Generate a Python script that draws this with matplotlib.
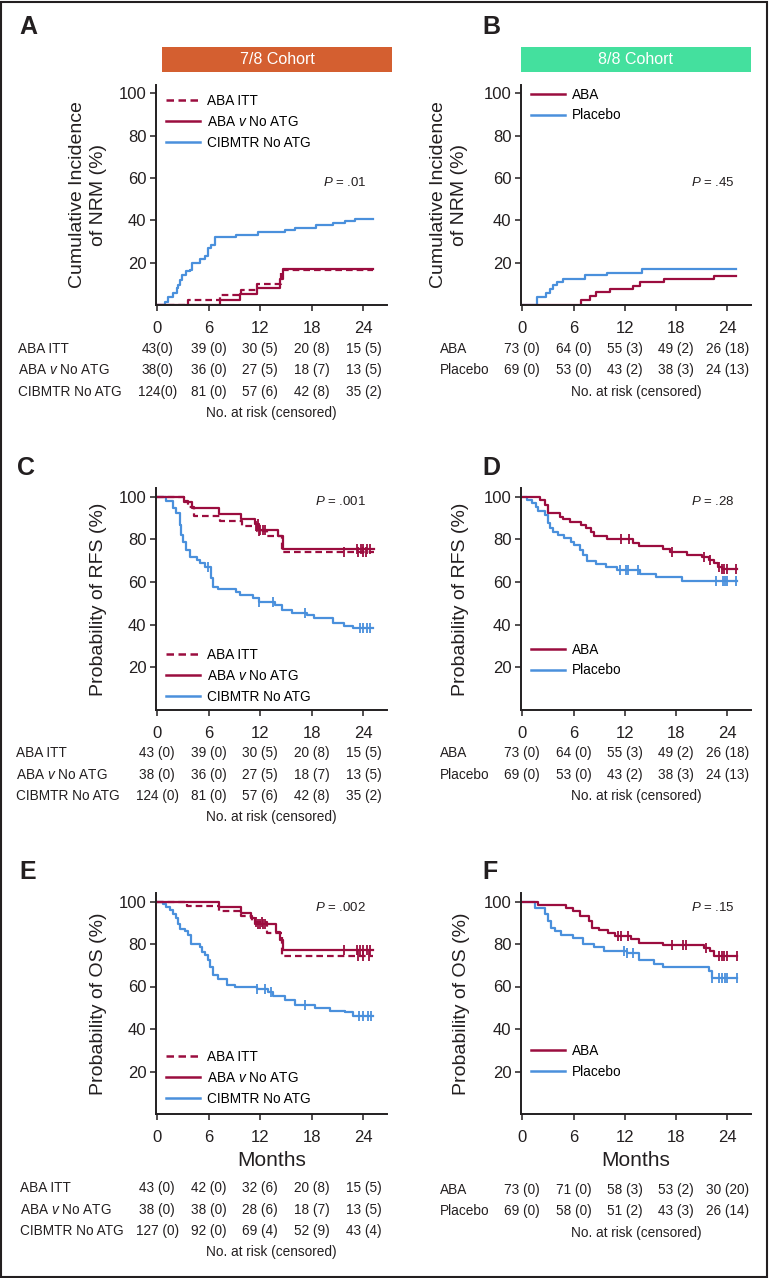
import numpy as np
import matplotlib
matplotlib.use("Agg")
import matplotlib.pyplot as plt
from matplotlib.lines import Line2D
from matplotlib.patches import Rectangle
from matplotlib.transforms import blended_transform_factory

# fonts: Arial-like text, italic P and v through mathtext
plt.rcParams['font.family'] = ['Liberation Sans', 'DejaVu Sans']
plt.rcParams['mathtext.fontset'] = 'custom'
plt.rcParams['mathtext.it'] = 'Liberation Sans:italic'
plt.rcParams['mathtext.rm'] = 'Liberation Sans'

RED = '#9b0d3f'
BLUE = '#4a90dc'
INK = '#231f20'
DASH = (0, (3, 1.8))

month_ticks = [0, 6, 12, 18, 24]
pct_ticks = [20, 40, 60, 80, 100]

# ---- A: cumulative incidence of NRM, 7/8 cohort
A_itt_t = [0, 3.6, 7.3, 9.8, 11.6, 14.4, 25.1]
A_itt_v = [0, 2.3, 4.7, 7.2, 9.8, 16.6, 16.6]
A_aba_t = [0, 7.3, 9.6, 11.6, 14.3, 14.6, 25.1]
A_aba_v = [0, 2.6, 5.3, 8.0, 12.3, 16.8, 16.8]
A_cib_t = [0, 0.95, 1.26, 1.84, 2.24, 2.43, 2.6, 2.82, 3.4, 3.79, 4.0, 4.95, 5.5, 5.9, 6.3, 6.7,
           9.2, 11.7, 14.9, 16.0, 18.5, 20.5, 21.9, 23.0, 25.1]
A_cib_v = [0, 1.5, 3.8, 5.7, 8.1, 9.6, 12.0, 14.4, 15.9, 16.7, 19.8, 21.7, 23.0, 26.9, 28.5, 32.1,
           33.2, 34.4, 35.5, 36.6, 37.9, 39.0, 39.9, 40.7, 40.7]

# ---- B: cumulative incidence of NRM, 8/8 cohort
B_aba_t = [0, 6.9, 7.9, 8.6, 10.3, 12.9, 13.8, 16.6, 22.4, 25.0]
B_aba_v = [0, 2.3, 4.2, 6.2, 7.6, 9.2, 10.7, 12.3, 13.9, 13.9]
B_pla_t = [0, 1.74, 2.8, 3.2, 3.6, 4.1, 4.8, 7.3, 9.9, 14.0, 25.0]
B_pla_v = [0, 3.8, 5.7, 7.6, 9.6, 10.7, 12.5, 14.0, 15.1, 17.0, 17.0]

# ---- C: RFS, 7/8 cohort
C_itt_t = [0, 3.1, 3.6, 4.3, 7.3, 9.9, 11.6, 12.8, 14.5, 25.2]
C_itt_v = [100, 97.7, 95.3, 90.7, 88.4, 86.0, 83.7, 81.3, 73.9, 73.9]
C_itt_c = [11.5, 11.9, 21.7, 23.4, 23.9, 24.3]
C_aba_t = [0, 3.1, 4.1, 7.2, 9.7, 11.4, 11.8, 14.1, 14.6, 25.2]
C_aba_v = [100, 97.4, 94.6, 91.9, 89.6, 87.2, 84.4, 81.3, 75.5, 75.5]
C_aba_c = [11.7, 12.0, 12.3, 12.6, 23.3, 23.7, 24.0, 24.4, 24.8]
C_cib_t = [0, 1.07, 1.8, 2.2, 2.6, 2.8, 3.0, 3.4, 3.8, 4.6, 5.0, 5.6, 6.2, 6.5, 7.1, 9.2, 9.6,
           11.2, 11.8, 13.7, 14.5, 15.7, 17.4, 18.2, 20.5, 21.7, 22.8, 25.1]
C_cib_v = [100, 97.7, 94.6, 92.2, 86.7, 82.0, 78.9, 75.0, 71.9, 70.3, 68.8, 67.2, 61.7, 57.8, 56.6,
           55.5, 53.9, 52.4, 50.8, 49.2, 46.9, 45.3, 44.5, 43.0, 40.9, 39.4, 38.3, 38.3]
C_cib_c = [5.9, 11.8, 13.5, 17.2, 23.6, 24.0, 24.4, 24.8]

# ---- D: RFS, 8/8 cohort
D_aba_t = [0, 2.1, 2.6, 3.0, 4.4, 4.8, 5.6, 6.9, 7.4, 8.0, 8.4, 9.9, 12.9, 13.7, 16.5, 17.3,
           19.3, 21.0, 21.8, 22.4, 22.9, 23.3, 25.1]
D_aba_v = [100, 98.6, 95.9, 92.2, 90.6, 89.3, 87.9, 86.7, 85.1, 83.6, 81.3, 80.0, 78.1, 76.9, 75.5,
           73.9, 72.7, 71.6, 70.3, 68.8, 67.2, 66.1, 66.1]
D_aba_c = [11.5, 12.5, 17.5, 21.2, 22.0, 23.0, 23.3, 23.6, 23.9, 25.0]
D_pla_t = [0, 0.5, 1.1, 1.6, 1.8, 2.6, 3.0, 3.3, 3.6, 4.2, 4.9, 5.7, 6.1, 6.8, 7.1, 7.6, 8.6,
           9.8, 11.1, 13.8, 15.6, 18.7, 25.1]
D_pla_v = [100, 98.4, 96.9, 95.3, 93.0, 91.4, 87.5, 85.1, 83.6, 82.0, 80.5, 78.9, 77.3, 75.0, 72.7,
           70.0, 68.4, 67.2, 65.6, 63.8, 62.2, 60.6, 60.6]
D_pla_c = [11.4, 12.1, 12.4, 13.5, 22.7, 23.5, 23.7, 24.0, 25.0]

# ---- E: OS, 7/8 cohort
E_itt_t = [0, 3.5, 7.2, 9.7, 11.0, 12.8, 14.5, 25.1]
E_itt_v = [100, 97.7, 95.3, 93.0, 90.4, 85.4, 74.4, 74.4]
E_itt_c = [11.5, 12.2, 23.4, 23.9, 24.6]
E_aba_t = [0, 7.2, 9.7, 10.9, 11.4, 13.8, 14.3, 14.6, 25.1]
E_aba_v = [100, 97.4, 94.7, 92.1, 89.5, 85.7, 81.8, 77.4, 77.4]
E_aba_c = [11.7, 12.0, 12.3, 12.6, 21.7, 23.2, 23.6, 24.0, 24.4, 24.8]
E_cib_t = [0, 0.68, 1.07, 1.46, 1.84, 2.16, 2.43, 2.62, 3.2, 3.6, 3.98, 4.95, 5.15, 5.5, 5.9, 6.1,
           6.5, 7.1, 8.06, 9.0, 11.6, 12.9, 13.5, 14.9, 16.0, 18.4, 20.1, 21.9, 22.8, 25.1]
E_cib_v = [100, 98.9, 97.6, 96.1, 94.2, 92.4, 89.6, 87.2, 86.1, 84.1, 79.8, 78.6, 76.2, 74.7, 72.3,
           69.2, 65.3, 63.6, 60.5, 59.7, 58.9, 57.3, 55.6, 53.5, 51.1, 50.0, 48.5, 47.9, 45.9, 45.9]
E_cib_c = [11.6, 12.6, 13.2, 17.2, 23.5, 24.0, 24.5, 24.9]

# ---- F: OS, 8/8 cohort
F_aba_t = [0, 1.8, 5.1, 5.9, 6.7, 7.8, 8.2, 9.0, 10.0, 10.9, 12.7, 13.6, 16.5, 21.2, 22.0, 22.4, 25.1]
F_aba_v = [100, 98.5, 97.1, 95.6, 93.2, 90.9, 87.7, 86.5, 85.1, 83.8, 82.3, 80.7, 79.5, 78.2, 76.7,
           74.3, 74.3]
F_aba_c = [11.2, 11.6, 12.4, 17.5, 18.8, 19.1, 21.5, 23.0, 23.3, 23.6, 23.9, 25.1]
F_pla_t = [0, 1.43, 2.6, 3.0, 3.4, 3.8, 4.5, 5.9, 7.05, 8.4, 9.6, 12.2, 13.6, 15.4, 16.5, 21.8,
           22.2, 25.1]
F_pla_v = [100, 97.1, 93.9, 90.8, 87.7, 86.1, 84.2, 82.9, 79.8, 78.5, 76.9, 75.8, 72.7, 70.8, 69.1,
           67.2, 64.0, 64.0]
F_pla_c = [11.9, 12.3, 13.0, 22.2, 23.0, 23.4, 23.7, 24.0, 25.1]

# ---- numbers at risk (censored)
rows_78 = ['ABA ITT', r'ABA $\mathit{v}$ No ATG', 'CIBMTR No ATG']
rows_88 = ['ABA', 'Placebo']
risk_A = [['43(0)', '39 (0)', '30 (5)', '20 (8)', '15 (5)'],
          ['38(0)', '36 (0)', '27 (5)', '18 (7)', '13 (5)'],
          ['124(0)', '81 (0)', '57 (6)', '42 (8)', '35 (2)']]
risk_B = [['73 (0)', '64 (0)', '55 (3)', '49 (2)', '26 (18)'],
          ['69 (0)', '53 (0)', '43 (2)', '38 (3)', '24 (13)']]
risk_C = [['43 (0)', '39 (0)', '30 (5)', '20 (8)', '15 (5)'],
          ['38 (0)', '36 (0)', '27 (5)', '18 (7)', '13 (5)'],
          ['124 (0)', '81 (0)', '57 (6)', '42 (8)', '35 (2)']]
risk_D = risk_B
risk_E = [['43 (0)', '42 (0)', '32 (6)', '20 (8)', '15 (5)'],
          ['38 (0)', '38 (0)', '28 (6)', '18 (7)', '13 (5)'],
          ['127 (0)', '92 (0)', '69 (4)', '52 (9)', '43 (4)']]
risk_F = [['73 (0)', '71 (0)', '58 (3)', '53 (2)', '30 (20)'],
          ['69 (0)', '58 (0)', '51 (2)', '43 (3)', '26 (14)']]

W, H = 769, 1278
fig = plt.figure(figsize=(W / 100, H / 100), dpi=100)


def px_axes(left, right, top, bottom):
    return fig.add_axes([left / W, 1 - bottom / H, (right - left) / W, (bottom - top) / H])


def step_at(t, v, x):
    idx = np.searchsorted(t, x, side='right') - 1
    return np.asarray(v)[idx]


def curve(ax, t, v, color, ls='-', cens=None):
    ax.step(t, v, where='post', color=color, lw=1.6, ls=ls)
    if cens:
        ax.plot(cens, step_at(t, v, cens), ls='none', marker='|', ms=6.5, mew=1.3, color=color)


def style(ax, ylabel, lab_x, ptxt, pxy):
    ax.set_xlim(-0.15, 26.75)
    ax.set_ylim(0, 104)
    ax.set_xticks(month_ticks)
    ax.set_yticks(pct_ticks)
    for s in ['top', 'right']:
        ax.spines[s].set_visible(False)
    for s in ['left', 'bottom']:
        ax.spines[s].set_linewidth(1.4)
        ax.spines[s].set_color(INK)
    ax.tick_params(axis='both', direction='out', length=4.5, width=1.1, colors=INK, labelsize=12)
    ax.tick_params(axis='x', pad=7)
    ax.tick_params(axis='y', pad=2.5)
    ax.set_ylabel(ylabel, fontsize=14, color=INK, va='center', ha='center', linespacing=1.25)
    ax.yaxis.set_label_coords(lab_x, 0.5)
    ax.text(pxy[0], pxy[1], r'$\mathit{P}$ = ' + ptxt, fontsize=9.5, ha='center', va='center', color=INK)


def legend(ax, items, yc):
    handles = [Line2D([0], [0], color=c, lw=1.8, ls=ls) for _, c, ls in items]
    ax.legend(handles, [n for n, _, _ in items], loc='center left', bbox_to_anchor=(0.045, yc),
              frameon=False, fontsize=9.8, handlelength=2.45, handletextpad=0.55, labelspacing=0.5,
              borderpad=0, borderaxespad=0)


def table(ax, rows, risk, first_px, label_px, hpx):
    tr = blended_transform_factory(ax.transData, ax.transAxes)
    trl = blended_transform_factory(fig.transFigure, ax.transAxes)
    pitch = 21.3
    for i, (name, vals) in enumerate(zip(rows, risk)):
        y = -(first_px + i * pitch) / hpx
        ax.text(label_px / W, y, name, transform=trl, fontsize=9.8, ha='left', va='center', color=INK)
        for m, s in zip(month_ticks, vals):
            ax.text(m, y, s, transform=tr, fontsize=9.8, ha='center', va='center', color=INK,
                    clip_on=False)
    y = -(first_px + len(rows) * pitch) / hpx
    ax.text(0.5, y, 'No. at risk (censored)', transform=ax.transAxes, fontsize=9.8,
            ha='center', va='center', color=INK)


lab78 = [('ABA ITT', RED, DASH), (r'ABA $\mathit{v}$ No ATG', RED, '-'), ('CIBMTR No ATG', BLUE, '-')]
lab88 = [('ABA', RED, '-'), ('Placebo', BLUE, '-')]

# panel A
axA = px_axes(156, 387, 85, 305)
curve(axA, A_cib_t, A_cib_v, BLUE)
curve(axA, A_itt_t, A_itt_v, RED, DASH)
curve(axA, A_aba_t, A_aba_v, RED)
style(axA, 'Cumulative Incidence\nof NRM (%)', -0.294, '.01', (21.9, 58))
legend(axA, lab78, 0.832)
table(axA, rows_78, risk_A, 44, 18, 220)

# panel B
axB = px_axes(521, 751, 85, 305)
curve(axB, B_pla_t, B_pla_v, BLUE)
curve(axB, B_aba_t, B_aba_v, RED)
style(axB, 'Cumulative Incidence\nof NRM (%)', -0.313, '.45', (22.3, 58))
legend(axB, lab88, 0.909)
table(axB, rows_88, risk_B, 44, 440, 220)

# panel C
axC = px_axes(156, 387, 488, 710)
curve(axC, C_cib_t, C_cib_v, BLUE, cens=C_cib_c)
curve(axC, C_itt_t, C_itt_v, RED, DASH, cens=C_itt_c)
curve(axC, C_aba_t, C_aba_v, RED, cens=C_aba_c)
style(axC, 'Probability of RFS (%)', -0.247, '.001', (21.3, 97.8))
legend(axC, lab78, 0.153)
table(axC, rows_78, risk_C, 43.3, 16, 222)

# panel D
axD = px_axes(521, 751, 488, 710)
curve(axD, D_pla_t, D_pla_v, BLUE, cens=D_pla_c)
curve(axD, D_aba_t, D_aba_v, RED, cens=D_aba_c)
style(axD, 'Probability of RFS (%)', -0.261, '.28', (22.3, 97.8))
legend(axD, lab88, 0.225)
table(axD, rows_88, risk_D, 43.3, 440, 222)

# panel E
axE = px_axes(156, 387, 893, 1114)
curve(axE, E_cib_t, E_cib_v, BLUE, cens=E_cib_c)
curve(axE, E_itt_t, E_itt_v, RED, DASH, cens=E_itt_c)
curve(axE, E_aba_t, E_aba_v, RED, cens=E_aba_c)
style(axE, 'Probability of OS (%)', -0.247, '.002', (21.3, 97))
legend(axE, lab78, 0.164)
axE.set_xlabel('Months', fontsize=15, color=INK, labelpad=4)
table(axE, rows_78, risk_E, 74.3, 20, 221)

# panel F
axF = px_axes(521, 751, 893, 1114)
curve(axF, F_pla_t, F_pla_v, BLUE, cens=F_pla_c)
curve(axF, F_aba_t, F_aba_v, RED, cens=F_aba_c)
style(axF, 'Probability of OS (%)', -0.26, '.15', (22.3, 97))
legend(axF, lab88, 0.237)
axF.set_xlabel('Months', fontsize=15, color=INK, labelpad=4)
table(axF, rows_88, risk_F, 76, 440, 221)

# cohort banners
for x0, x1, txt, col in [(162, 392, '7/8 Cohort', '#d45f30'), (521, 751, '8/8 Cohort', '#44e09e')]:
    fig.add_artist(Rectangle((x0 / W, 1 - 72 / H), (x1 - x0) / W, 25 / H,
                             transform=fig.transFigure, color=col, lw=0))
    fig.text((x0 + x1) / 2 / W, 1 - 59.5 / H, txt, color='white', fontsize=11.5,
             ha='center', va='center')

# panel letters
for lx, ly, letter in [(28, 27, 'A'), (491, 27, 'B'), (26, 468, 'C'),
                       (491, 468, 'D'), (28, 872, 'E'), (490, 872, 'F')]:
    fig.text(lx / W, 1 - ly / H, letter, fontsize=18, fontweight='bold',
             ha='center', va='center', color=INK)

# outer frame
fig.add_artist(Rectangle((0.001, 0.0008), 0.997, 0.998, transform=fig.transFigure,
                         fill=False, lw=1.5, ec=INK))

fig.savefig('out.png', dpi=100)
